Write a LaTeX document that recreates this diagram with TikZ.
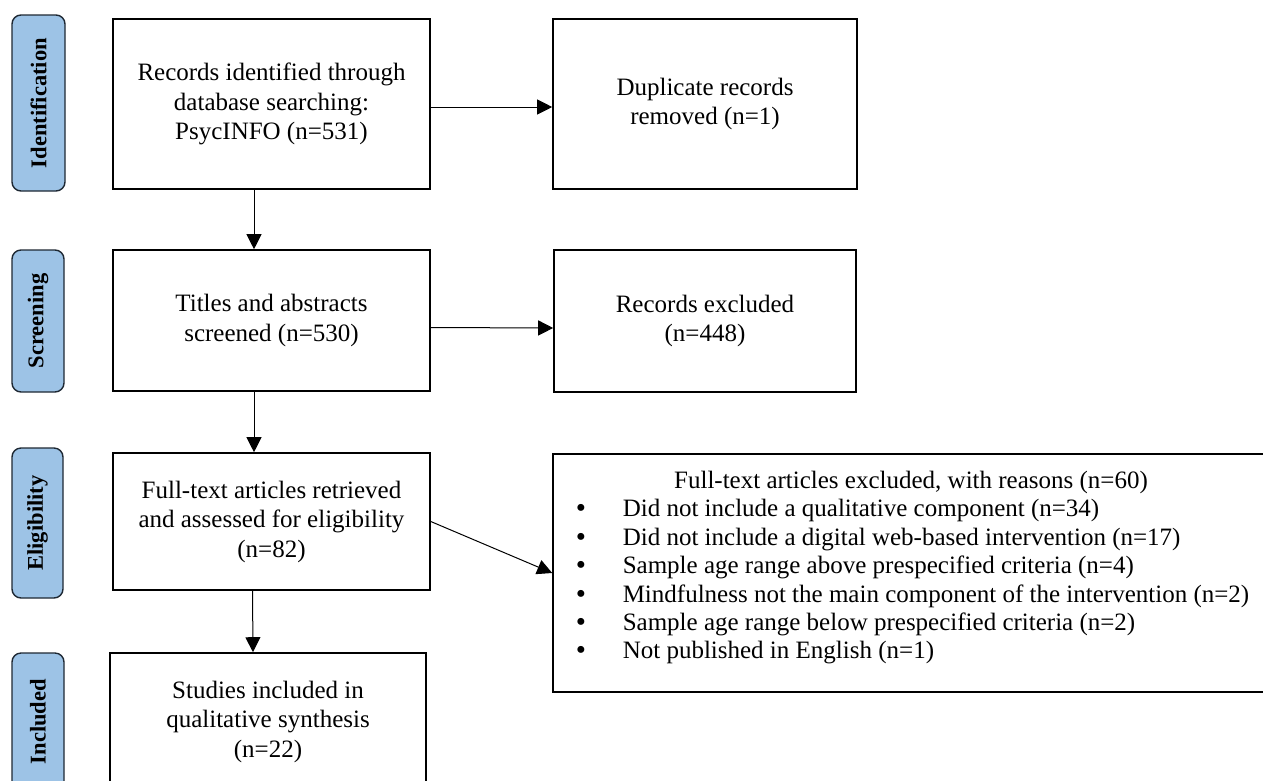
\documentclass[tikz,border=0pt]{standalone}
\usepackage{fontspec}
\setmainfont{Liberation Serif}
\usetikzlibrary{arrows.meta}
\definecolor{stageblue}{HTML}{9DC3E6}
\definecolor{stageline}{HTML}{1E2833}
\newcommand{\bul}{\hspace*{3pt}\smash{\raisebox{-1pt}{\fontsize{29}{28}\selectfont\textbullet}}}

\begin{document}
\begin{tikzpicture}[x=1pt,y=-1pt,
  box/.style={draw, line width=1.6pt, align=center, inner sep=0pt, font=\fontsize{25}{29.5}\selectfont},
  stage/.style={draw=stageline, fill=stageblue, line width=1.4pt, rounded corners=9pt, rotate=90, inner sep=0pt, font=\bfseries\fontsize{22.5}{24}\selectfont},
  flow/.style={-{Triangle[length=15pt,width=15pt]}, line width=1pt}]
\useasboundingbox (0,0) rectangle (1263,780);

% stages
\node[stage, minimum width=176, minimum height=53] (idLab) at (38.5,103) {Identification};
\node[stage, minimum width=142, minimum height=52] (scrLab) at (38,321) {Screening};
\node[stage, minimum width=150, minimum height=51] (eliLab) at (37.5,523) {Eligibility};
\node[stage, minimum width=137, minimum height=52] (incLab) at (38,721.5) {Included};

% boxes
\node[box, minimum width=317, minimum height=170] (rec) at (271.5,104) {Records identified through\\database searching:\\PsycINFO (n=531)};
\node[box, minimum width=304, minimum height=170] (dup) at (705,104) {Duplicate records\\removed (n=1)};
\node[box, minimum width=317, minimum height=141] (scr) at (271.5,320.5) {Titles and abstracts\\screened (n=530)};
\node[box, minimum width=302, minimum height=142] (excl) at (705,321) {Records excluded\\(n=448)};
\node[box, minimum width=317, minimum height=137] (full) at (271.5,521.5) {Full-text articles retrieved\\and assessed for eligibility\\(n=82)};
\node[box, minimum width=716, minimum height=238, font=\fontsize{25}{28.4}\selectfont] (why) at (911,573) {%
\begin{tabular}{@{}p{50pt}@{}l@{}}
\multicolumn{2}{c}{Full-text articles excluded, with reasons (n=60)}\\
\bul & Did not include a qualitative component (n=34)\\
\bul & Did not include a digital web-based intervention (n=17)\\
\bul & Sample age range above prespecified criteria (n=4)\\
\bul & Mindfulness not the main component of the intervention (n=2)\\
\bul & Sample age range below prespecified criteria (n=2)\\
\bul & Not published in English (n=1)\\[10pt]
\end{tabular}};
\node[box, minimum width=316, minimum height=137] (incl) at (268,721.5) {Studies included in\\qualitative synthesis\\(n=22)};

% arrows
\draw[flow] ([yshift=-3pt]rec.east) -- ([yshift=-3pt]dup.west);
\draw[flow] ([xshift=-17.5pt]rec.south) -- ([xshift=-17.5pt]scr.north);
\draw[flow] ([yshift=-7pt]scr.east) -- ([yshift=-7pt]excl.west);
\draw[flow] ([xshift=-17.5pt]scr.south) -- ([xshift=-17.5pt]full.north);
\draw[flow] (full.east) -- (why.west);
\draw[flow] ([xshift=-19pt]full.south) -- ([xshift=-15pt]incl.north);
\end{tikzpicture}
\end{document}
